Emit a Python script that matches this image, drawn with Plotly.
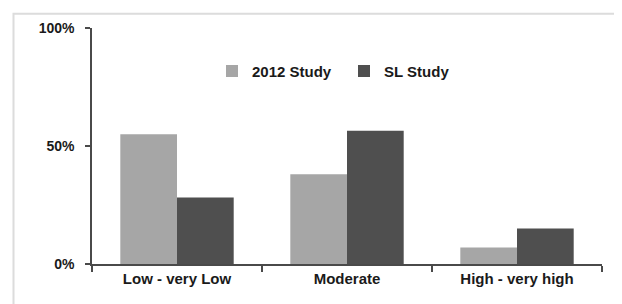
import plotly.graph_objects as go

categories = ["Low - very Low", "Moderate", "High - very high"]
study_2012 = [0.55, 0.38, 0.07]
sl_study = [0.282, 0.565, 0.15]
series_names = ["2012 Study", "SL Study"]
y_tick_vals = [0, 0.5, 1.0]
y_tick_text = ["0%", "50%", "100%"]

FONT = "Liberation Sans, Arial, sans-serif"
TXT = "#1a1a1a"
AXIS = "#4a4a4a"

fig = go.Figure()
fig.add_trace(go.Bar(x=categories, y=study_2012, name=series_names[0],
                     marker=dict(color="#a6a6a6", line=dict(width=0))))
fig.add_trace(go.Bar(x=categories, y=sl_study, name=series_names[1],
                     marker=dict(color="#4f4f4f", line=dict(width=0))))

# page body has an 8px default margin; compensate
OFF = 8
W, H = 622 - OFF, 304 - OFF
L, T = 92 - OFF, 24 - OFF
pw, ph = 510, 240
R, B = W - L - pw, H - T - ph


def px_x(px):
    return (px - OFF - L) / pw


def px_y(py):
    return (T + ph - (py - OFF)) / ph


fig.update_layout(
    width=W, height=H,
    margin=dict(l=L, r=R, t=T, b=B, pad=0),
    paper_bgcolor="white", plot_bgcolor="white",
    barmode="group", bargap=0.333, bargroupgap=0,
    font=dict(family=FONT, color=TXT, size=15, weight="bold"),
    showlegend=True,
    legend=dict(orientation="h", x=px_x(212), y=px_y(68),
                xanchor="left", yanchor="middle",
                itemwidth=30,
                entrywidth=87, entrywidthmode="pixels",
                font=dict(family=FONT, size=15, color=TXT, weight="bold"),
                bgcolor="rgba(0,0,0,0)", itemclick=False),
    xaxis=dict(type="category", tickson="boundaries", ticks="outside",
               ticklen=6, tickwidth=1.5, tickcolor=AXIS,
               showline=True, linecolor=AXIS, linewidth=1.5,
               showgrid=False, zeroline=False,
               tickfont=dict(family=FONT, size=15, color=TXT, weight="bold")),
    yaxis=dict(range=[0, 1.0], tickvals=y_tick_vals, ticktext=y_tick_text,
               ticks="outside", ticklen=5, tickwidth=1.5, tickcolor=AXIS,
               showline=True, linecolor=AXIS, linewidth=1.5,
               showgrid=False, zeroline=False, ticklabelstandoff=8,
               tickfont=dict(family=FONT, size=14, color=TXT, weight="bold")),
)

# light outer frame
fig.add_shape(type="rect", xref="paper", yref="paper",
              x0=px_x(13.5), x1=px_x(617), y0=px_y(330), y1=px_y(9.5),
              line=dict(color="#dcdcdc", width=2), fillcolor="rgba(0,0,0,0)",
              layer="below")

fig.write_html("out.html")
